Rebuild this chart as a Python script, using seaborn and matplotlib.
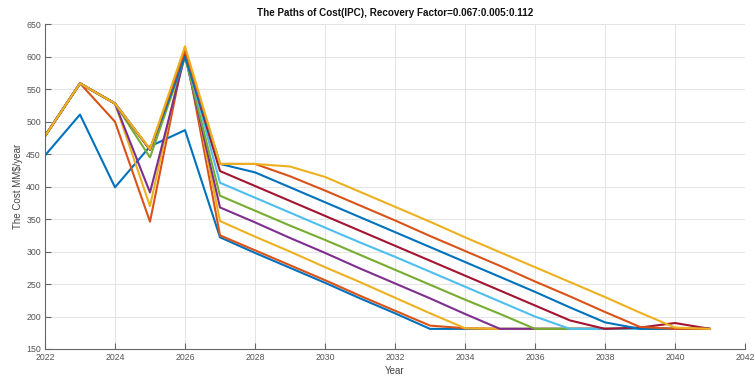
import matplotlib
matplotlib.use("Agg")
import matplotlib.pyplot as plt
import pandas as pd
import seaborn as sns

# Simulation years
years = list(range(2022, 2042))

# Recovery factors swept 0.067:0.005:0.112
recovery_factors = ["0.067", "0.072", "0.077", "0.082", "0.087",
                    "0.092", "0.097", "0.102", "0.107", "0.112"]

# Annual cost paths (MM$/year), one per recovery factor
cost_067 = [448, 511, 399, 462, 487, 322, 298, 275, 252, 228, 205, 181,
            181, 181, 181, 181, 181, 181, 181, 181]
cost_072 = [478, 559, 500, 346, 612, 325, 302, 279, 256, 232, 209, 186,
            182, 181, 181, 181, 181, 181, 181, 181]
cost_077 = [478, 559, 528, 370, 615, 347, 323, 300, 276, 253, 229, 205,
            182, 181, 181, 181, 181, 181, 181, 181]
cost_082 = [478, 559, 528, 391, 602, 368, 345, 321, 298, 274, 251, 228,
            204, 181, 181, 181, 181, 181, 181, 181]
cost_087 = [478, 559, 528, 445, 600, 386, 363, 340, 318, 295, 272, 249,
            226, 204, 181, 181, 181, 181, 181, 181]
cost_092 = [478, 559, 528, 457, 605, 406, 383, 360, 337, 314, 292, 269,
            246, 223, 200, 181, 181, 181, 181, 181]
cost_097 = [478, 559, 528, 457, 603, 424, 401, 378, 355, 332, 309, 286,
            263, 240, 217, 194, 181, 183, 190, 181]
cost_102 = [478, 559, 528, 457, 600, 435, 422, 399, 376, 353, 330, 307,
            284, 261, 238, 214, 191, 181, 181, 181]
cost_107 = [478, 559, 528, 457, 610, 435, 435, 416, 394, 371, 348, 324,
            301, 278, 254, 231, 207, 184, 181, 181]
cost_112 = [478, 559, 528, 458, 616, 435, 435, 431, 415, 392, 369, 346,
            322, 299, 276, 253, 230, 206, 183, 181]

paths = [cost_067, cost_072, cost_077, cost_082, cost_087,
         cost_092, cost_097, cost_102, cost_107, cost_112]

x_ticks = list(range(2022, 2043, 2))
y_ticks = list(range(150, 651, 50))

records = []
for rf, path in zip(recovery_factors, paths):
    for yr, c in zip(years, path):
        records.append({"Year": yr, "Cost": c, "RF": rf})
df = pd.DataFrame(records)

# MATLAB-like default colour order, cycling after seven colours
base_colors = ["#0072BD", "#D95319", "#EDB120", "#7E2F8E",
               "#77AC30", "#4DBEEE", "#A2142F"]
palette = {rf: base_colors[i % len(base_colors)]
           for i, rf in enumerate(recovery_factors)}

sns.set_theme(style="whitegrid")
plt.rcParams["font.family"] = ["Liberation Sans", "DejaVu Sans"]

fig = plt.figure(figsize=(7.55, 3.76), dpi=100)
ax = fig.add_axes([45 / 755, 1 - 349 / 376, 700 / 755, (349 - 24.3) / 376])

sns.lineplot(data=df, x="Year", y="Cost", hue="RF", palette=palette,
             hue_order=recovery_factors, estimator=None, sort=False,
             linewidth=1.5, legend=False, ax=ax)

ax.set_xlim(2022, 2042)
ax.set_ylim(150, 650)
ax.set_xticks(x_ticks)
ax.set_yticks(y_ticks)

ax.set_facecolor("white")
ax.grid(True, color="#e4e4e4", linewidth=0.7)
for side in ("top", "right"):
    ax.spines[side].set_visible(False)
for side in ("left", "bottom"):
    ax.spines[side].set_visible(True)
    ax.spines[side].set_color("#666666")
    ax.spines[side].set_linewidth(0.8)

ax.tick_params(axis="both", direction="in", length=4, width=0.8,
               color="#666666", labelsize=6.3, labelcolor="#555555", pad=3,
               bottom=True, left=True)

ax.set_xlabel("Year", fontsize=7, color="#444444", labelpad=3)
ax.set_ylabel("The Cost MM$/year", fontsize=7, color="#444444", labelpad=2)
ax.set_title("The Paths of Cost(IPC), Recovery Factor=0.067:0.005:0.112",
             fontsize=7.1, fontweight="bold", color="#111111", pad=6)

fig.savefig("out.png", dpi=100, facecolor="white")
